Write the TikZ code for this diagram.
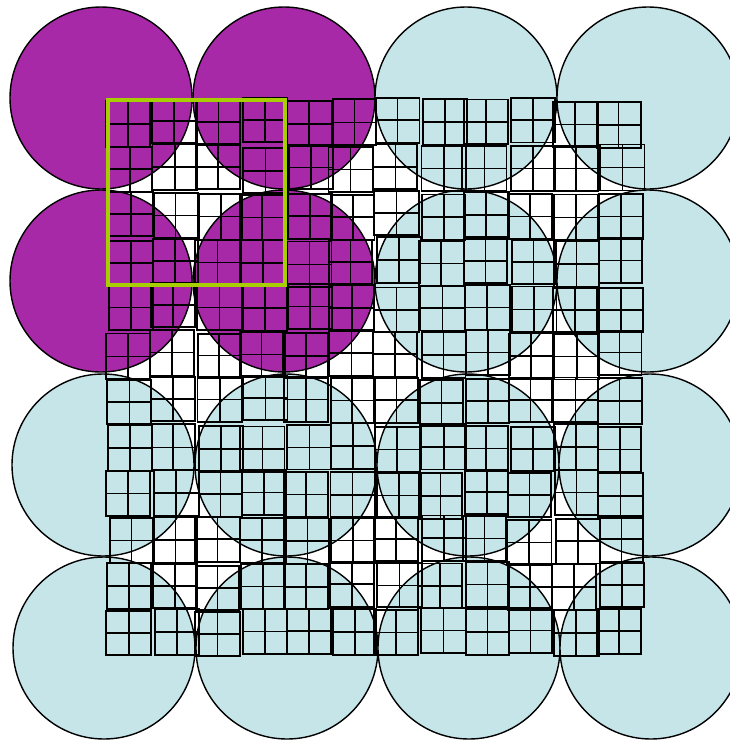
\documentclass[tikz,border=0pt]{standalone}
\definecolor{cpurple}{RGB}{168,41,168}
\definecolor{cblue}{RGB}{197,229,232}
\definecolor{cgreen}{RGB}{166,206,0}
\begin{document}
\begin{tikzpicture}[x=1pt,y=-1pt,
  circ/.style={circle,draw=black,line width=1.4pt,minimum size=182pt,inner sep=0pt},
  sq/.style={draw=black,line width=1.9pt},
  subl/.style={draw=black,line width=1.6pt},
  hl/.style={draw=cgreen,line width=4pt}]
\useasboundingbox (0,0) rectangle (730,740);
\clip (0,0) rectangle (730,740);
\foreach \i/\cx in {0/101,1/284,2/466,3/648}{
  \foreach \j/\cy/\dx in {0/98/0,1/281/0,2/465/2,3/648/3}{
    \pgfmathtruncatemacro\p{and(\i<2,\j<2)}
    \ifnum\p=1 \def\fc{cpurple}\else\def\fc{cblue}\fi
    \node[circ,fill=\fc] (c\i\j) at (\cx+\dx,\cy) {};
  }
}
\pgfmathsetseed{3}
\foreach \r in {0,...,11}{
  \foreach \c in {0,...,11}{
    \pgfmathsetmacro\x{108+44.6*\c+2.5*rand}
    \pgfmathsetmacro\y{100+46.4*\r+2.5*rand}
    \pgfmathsetmacro\w{44+1*rand}
    \pgfmathsetmacro\h{45+1*rand}
    \draw[subl] (\x+\w/2,\y) -- ++(0,\h) (\x,\y+\h/2) -- ++(\w,0);
    \draw[sq] (\x,\y) rectangle ++(\w,\h);
  }
}
\coordinate (g1) at (108,100);
\coordinate (g2) at (285,285);
\draw[hl] (g1) rectangle (g2);
\end{tikzpicture}
\end{document}
